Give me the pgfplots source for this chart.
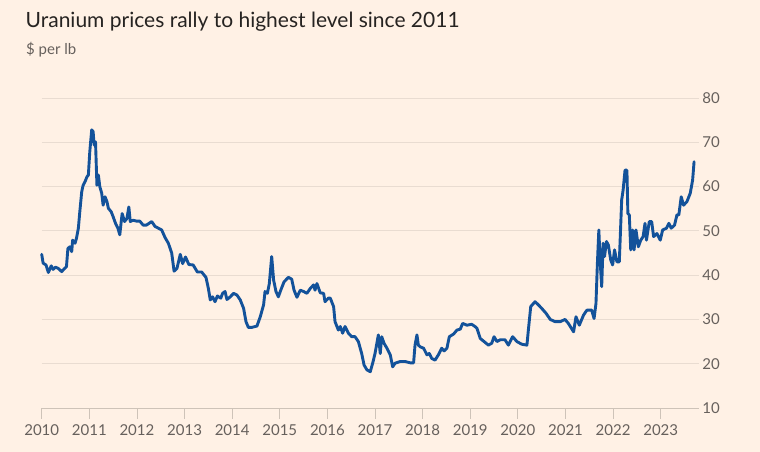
\documentclass[border=0pt]{standalone}
\usepackage{fontspec}
\setmainfont{Lato}
\usepackage{pgfplots}
\pgfplotsset{compat=1.18}
\usepackage{pgfplotstable}
\definecolor{bg}{HTML}{FFF1E5}
\definecolor{lineblue}{HTML}{13529A}
\definecolor{gridc}{HTML}{E9DCD1}
\definecolor{axisc}{HTML}{CEC3B8}
\definecolor{labelc}{HTML}{66605C}
\definecolor{titlec}{HTML}{262321}
\pgfplotstableread{
year price
2010.00 44.7
2010.03 42.7
2010.09 42.3
2010.14 40.6
2010.20 42.1
2010.24 41.3
2010.29 41.8
2010.35 41.5
2010.42 40.8
2010.47 41.4
2010.52 41.9
2010.55 46.0
2010.59 46.4
2010.63 45.3
2010.65 47.9
2010.70 47.2
2010.73 48.3
2010.77 50.6
2010.80 54.3
2010.84 58.8
2010.87 60.3
2010.91 61.1
2010.95 62.2
2010.98 62.6
2011.01 67.9
2011.05 72.8
2011.08 72.4
2011.10 69.4
2011.13 70.1
2011.16 60.3
2011.19 62.6
2011.22 60.0
2011.26 58.5
2011.29 55.8
2011.33 57.7
2011.37 56.6
2011.40 55.1
2011.46 54.3
2011.50 53.2
2011.55 51.7
2011.60 50.6
2011.64 49.1
2011.67 52.1
2011.69 53.9
2011.74 52.1
2011.79 52.8
2011.83 55.4
2011.86 52.1
2011.92 52.4
2011.99 52.2
2012.06 52.2
2012.13 51.3
2012.20 51.3
2012.31 52.1
2012.38 51.0
2012.45 50.6
2012.52 50.2
2012.59 48.5
2012.66 47.2
2012.73 45.0
2012.78 40.9
2012.84 41.5
2012.91 44.7
2012.96 42.6
2013.02 44.1
2013.09 42.4
2013.18 42.3
2013.27 40.7
2013.36 40.7
2013.45 39.5
2013.50 37.0
2013.54 34.4
2013.59 35.1
2013.64 34.0
2013.69 35.3
2013.76 34.8
2013.80 35.9
2013.85 36.3
2013.89 34.5
2013.96 35.1
2014.03 35.9
2014.10 35.5
2014.17 34.4
2014.24 32.5
2014.29 29.5
2014.34 28.2
2014.41 28.2
2014.52 28.5
2014.59 30.6
2014.66 33.3
2014.69 36.3
2014.74 35.9
2014.78 38.1
2014.83 44.2
2014.87 38.9
2014.92 36.3
2014.97 35.1
2015.02 36.6
2015.09 38.5
2015.18 39.5
2015.25 39.1
2015.30 36.6
2015.36 35.0
2015.43 36.6
2015.50 36.3
2015.57 35.9
2015.64 37.0
2015.71 37.8
2015.74 36.6
2015.78 38.1
2015.85 36.0
2015.92 35.9
2015.95 34.0
2016.02 34.8
2016.06 34.8
2016.13 32.9
2016.16 29.5
2016.23 27.6
2016.27 28.4
2016.32 26.9
2016.37 28.4
2016.44 26.9
2016.51 26.1
2016.58 26.1
2016.65 25.0
2016.72 22.3
2016.77 19.7
2016.83 18.6
2016.90 18.2
2016.95 20.1
2017.00 22.3
2017.07 26.5
2017.11 22.3
2017.14 26.1
2017.19 24.6
2017.25 23.5
2017.32 22.0
2017.37 19.3
2017.42 20.1
2017.53 20.5
2017.63 20.5
2017.74 20.2
2017.81 20.2
2017.84 24.2
2017.88 26.5
2017.91 24.2
2017.95 23.8
2018.02 23.5
2018.09 22.0
2018.14 22.3
2018.19 21.2
2018.26 20.8
2018.33 22.0
2018.40 23.5
2018.45 22.9
2018.51 23.5
2018.56 26.1
2018.65 26.7
2018.72 27.6
2018.79 27.8
2018.84 29.1
2018.93 28.7
2019.03 28.9
2019.10 28.4
2019.14 28.0
2019.21 25.7
2019.29 25.0
2019.38 24.2
2019.45 24.6
2019.50 26.1
2019.56 25.0
2019.63 25.4
2019.73 25.4
2019.80 24.2
2019.89 26.1
2019.98 25.0
2020.08 24.4
2020.19 24.2
2020.22 27.6
2020.27 32.9
2020.36 34.0
2020.43 33.3
2020.50 32.5
2020.59 31.4
2020.68 30.0
2020.78 29.5
2020.89 29.5
2020.99 30.0
2021.06 29.1
2021.17 27.2
2021.22 30.6
2021.29 28.7
2021.38 31.0
2021.45 32.1
2021.55 32.1
2021.60 30.2
2021.64 33.6
2021.67 42.7
2021.70 50.2
2021.73 42.7
2021.76 37.4
2021.79 47.2
2021.82 44.2
2021.86 47.6
2021.90 46.8
2021.95 43.4
2021.99 42.3
2022.03 45.7
2022.08 43.0
2022.13 43.0
2022.18 57.0
2022.21 59.2
2022.25 63.7
2022.29 63.7
2022.31 53.9
2022.34 53.6
2022.37 45.7
2022.41 50.2
2022.44 45.7
2022.48 50.2
2022.53 46.4
2022.58 47.9
2022.63 48.7
2022.67 51.7
2022.70 47.9
2022.76 52.1
2022.81 52.1
2022.85 48.7
2022.92 49.4
2022.99 47.9
2023.04 50.2
2023.12 50.6
2023.17 51.7
2023.22 50.6
2023.29 51.3
2023.34 53.6
2023.38 53.6
2023.43 57.7
2023.48 55.8
2023.55 56.6
2023.62 58.5
2023.67 61.5
2023.70 65.6
}\uranium
\begin{document}
\begin{tikzpicture}
\fill[bg] (0pt,0pt) rectangle (760pt,452pt);
\node[anchor=base west, inner sep=0pt, text=titlec, font=\fontsize{21}{25}\selectfont] at (25.5pt,424.7pt) {Uranium prices rally to highest level since 2011};
\node[anchor=base west, inner sep=0pt, text=labelc, font=\fontsize{15}{18}\selectfont] at (26pt,397pt) {\$ per lb};
\begin{axis}[
  at={(41.7pt,44pt)}, anchor=south west,
  scale only axis, width=657.6pt, height=310pt,
  xmin=2010, xmax=2023.81, ymin=10, ymax=80,
  axis x line*=bottom, axis y line*=right,
  x axis line style={draw=axisc, line width=0.8pt},
  y axis line style={draw=none},
  xtick={2010,2011,2012,2013,2014,2015,2016,2017,2018,2019,2020,2021,2022,2023},
  xticklabels={2010,2011,2012,2013,2014,2015,2016,2017,2018,2019,2020,2021,2022,2023},
  ytick={10,20,30,40,50,60,70,80},
  tick align=outside, major tick length=11pt,
  x tick style={draw=axisc, line width=0.8pt},
  y tick style={draw=none},
  ymajorgrids, grid style={draw=gridc, line width=0.8pt},
  /pgf/number format/assume math mode=true,
  ticklabel style={font=\fontsize{15}{18}\selectfont, text=labelc},
  xticklabel style={yshift=-2.5pt},
  yticklabel style={anchor=west, xshift=-11.5pt},
  clip=false,
]
\addplot[line width=2.9pt, color=lineblue, line join=round, line cap=round, mark=none] table[x=year, y=price] {\uranium};
\end{axis}
\end{tikzpicture}
\end{document}
